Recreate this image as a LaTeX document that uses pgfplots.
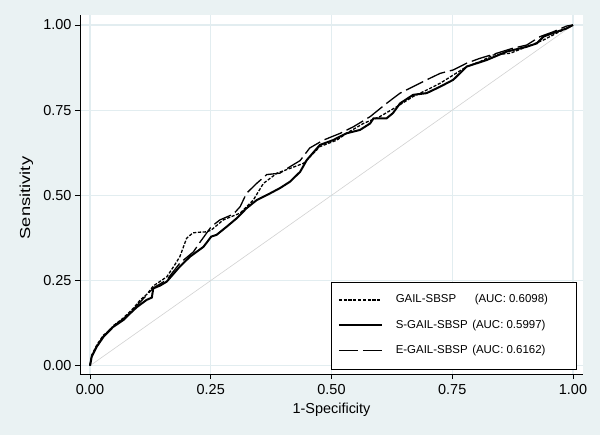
\documentclass[border=0pt]{standalone}
\usepackage{graphicx}
\usepackage{pgfplots}
\pgfplotsset{compat=1.18}
\usepackage{fontspec}
\setmainfont{Liberation Sans}
\definecolor{bgc}{RGB}{234,242,243}
\definecolor{gridc}{RGB}{226,237,240}
\definecolor{refc}{RGB}{210,210,210}
\begin{document}
\begin{tikzpicture}
\fill[bgc] (-80bp,-61bp) rectangle (520bp,374bp);
\begin{axis}[
  at={(0,0)}, anchor=south west,
  scale only axis, width=503bp, height=359bp,
  xmin=-0.0207, xmax=1.0207, ymin=-0.0243, ymax=1.0293,
  axis background/.style={fill=white},
  axis lines*=left,
  axis line style={black, line width=0.9bp},
  xtick={0,0.25,0.5,0.75,1}, ytick={0,0.25,0.5,0.75,1},
  grid=major, major grid style={gridc, line width=1.2bp},
  tick align=outside, major tick length=5bp,
  tick style={black, line width=0.8bp},
  ticklabel style={font=\fontsize{14.5}{17}\selectfont},
  xticklabel style={yshift=-2bp},
  /pgf/number format/.cd, fixed, fixed zerofill, precision=2, assume math mode=true, /pgfplots/.cd,
  xlabel={1-Specificity}, ylabel={\scalebox{1.27}[1]{Sensitivity}},
  every axis x label/.style={at={(axis description cs:0.5,-0.1003)}, anchor=center, font=\fontsize{14.5}{17}\selectfont},
  every axis y label/.style={at={(axis description cs:-0.1064,0.49)}, anchor=center, rotate=90, font=\fontsize{14.5}{17}\selectfont},
  legend style={at={(0.986,0.014)}, anchor=south east, draw=black, fill=white,
    font=\fontsize{11.5}{13}\selectfont, inner xsep=7bp, inner ysep=10bp, row sep=9.4bp,
    nodes={text height=9bp, text depth=3bp, inner sep=2bp},
    /tikz/every odd column/.append style={column sep=11bp}},
  legend cell align=left,
  legend image code/.code={\draw[#1] (0bp,0bp) -- (43bp,0bp);},
]
\addplot[refc, line width=0.6bp, forget plot] coordinates {(0,0) (1,1)};
% GAIL-SBSP (short dashes)
\addplot[black, line width=1.3bp, dash pattern=on 3.2bp off 1.6bp] coordinates {
(0,0) (0.0035,0.031) (0.014,0.061) (0.028,0.090) (0.038,0.100) (0.048,0.117) (0.069,0.140)
(0.090,0.169) (0.104,0.193) (0.118,0.210) (0.131,0.234) (0.159,0.261) (0.175,0.295) (0.186,0.320)
(0.200,0.374) (0.213,0.390) (0.228,0.392) (0.242,0.393) (0.251,0.398) (0.276,0.428)
(0.311,0.448) (0.338,0.486) (0.359,0.535) (0.387,0.565) (0.414,0.579) (0.442,0.594)
(0.476,0.643) (0.511,0.662) (0.531,0.682) (0.566,0.711) (0.600,0.731) (0.635,0.760)
(0.669,0.790) (0.697,0.809) (0.725,0.829) (0.752,0.853) (0.780,0.878) (0.807,0.892)
(0.835,0.912) (0.870,0.917) (0.904,0.936) (0.939,0.956) (0.966,0.976) (0.987,0.990) (1,1)};
\addlegendentry{\makebox[171bp][l]{\makebox[79bp][l]{GAIL-SBSP}(AUC: 0.6098)}}
% S-GAIL-SBSP (solid)
\addplot[black, line width=2bp] coordinates {
(0,0) (0.0035,0.026) (0.014,0.056) (0.028,0.085) (0.048,0.114) (0.069,0.134) (0.090,0.163)
(0.098,0.173) (0.117,0.193) (0.128,0.200) (0.131,0.227) (0.145,0.235) (0.159,0.247)
(0.186,0.291) (0.207,0.320) (0.235,0.349) (0.251,0.379) (0.262,0.384) (0.283,0.408)
(0.304,0.433) (0.324,0.462) (0.345,0.486) (0.373,0.506) (0.393,0.521) (0.414,0.540)
(0.435,0.569) (0.449,0.604) (0.476,0.648) (0.503,0.662) (0.531,0.682) (0.559,0.692)
(0.580,0.711) (0.587,0.726) (0.614,0.726) (0.627,0.741) (0.642,0.770) (0.669,0.795)
(0.697,0.800) (0.725,0.819) (0.752,0.839) (0.780,0.878) (0.821,0.897) (0.863,0.922)
(0.904,0.936) (0.925,0.946) (0.939,0.966) (0.966,0.980) (0.987,0.990) (1,1)};
\addlegendentry{\makebox[171bp][l]{\makebox[76.5bp][l]{S-GAIL-SBSP}(AUC: 0.5997)}}
% E-GAIL-SBSP (long dashes)
\addplot[black, line width=1.3bp, dash pattern=on 19bp off 5bp] coordinates {
(0,0) (0.0035,0.028) (0.014,0.058) (0.028,0.087) (0.048,0.117) (0.069,0.137) (0.090,0.166)
(0.110,0.196) (0.131,0.228) (0.159,0.252) (0.186,0.301) (0.214,0.334) (0.228,0.363)
(0.251,0.408) (0.269,0.428) (0.297,0.445) (0.311,0.467) (0.324,0.506) (0.345,0.535)
(0.366,0.561) (0.393,0.565) (0.414,0.584) (0.435,0.602) (0.455,0.639) (0.483,0.662)
(0.518,0.682) (0.545,0.701) (0.580,0.731) (0.614,0.770) (0.642,0.800) (0.669,0.819)
(0.697,0.839) (0.725,0.858) (0.752,0.868) (0.780,0.888) (0.807,0.902) (0.842,0.917)
(0.876,0.932) (0.904,0.941) (0.932,0.966) (0.959,0.980) (0.987,0.997) (1,1)};
\addlegendentry{\makebox[171bp][l]{\makebox[76.5bp][l]{E-GAIL-SBSP}(AUC: 0.6162)}}
\end{axis}
\end{tikzpicture}
\end{document}
